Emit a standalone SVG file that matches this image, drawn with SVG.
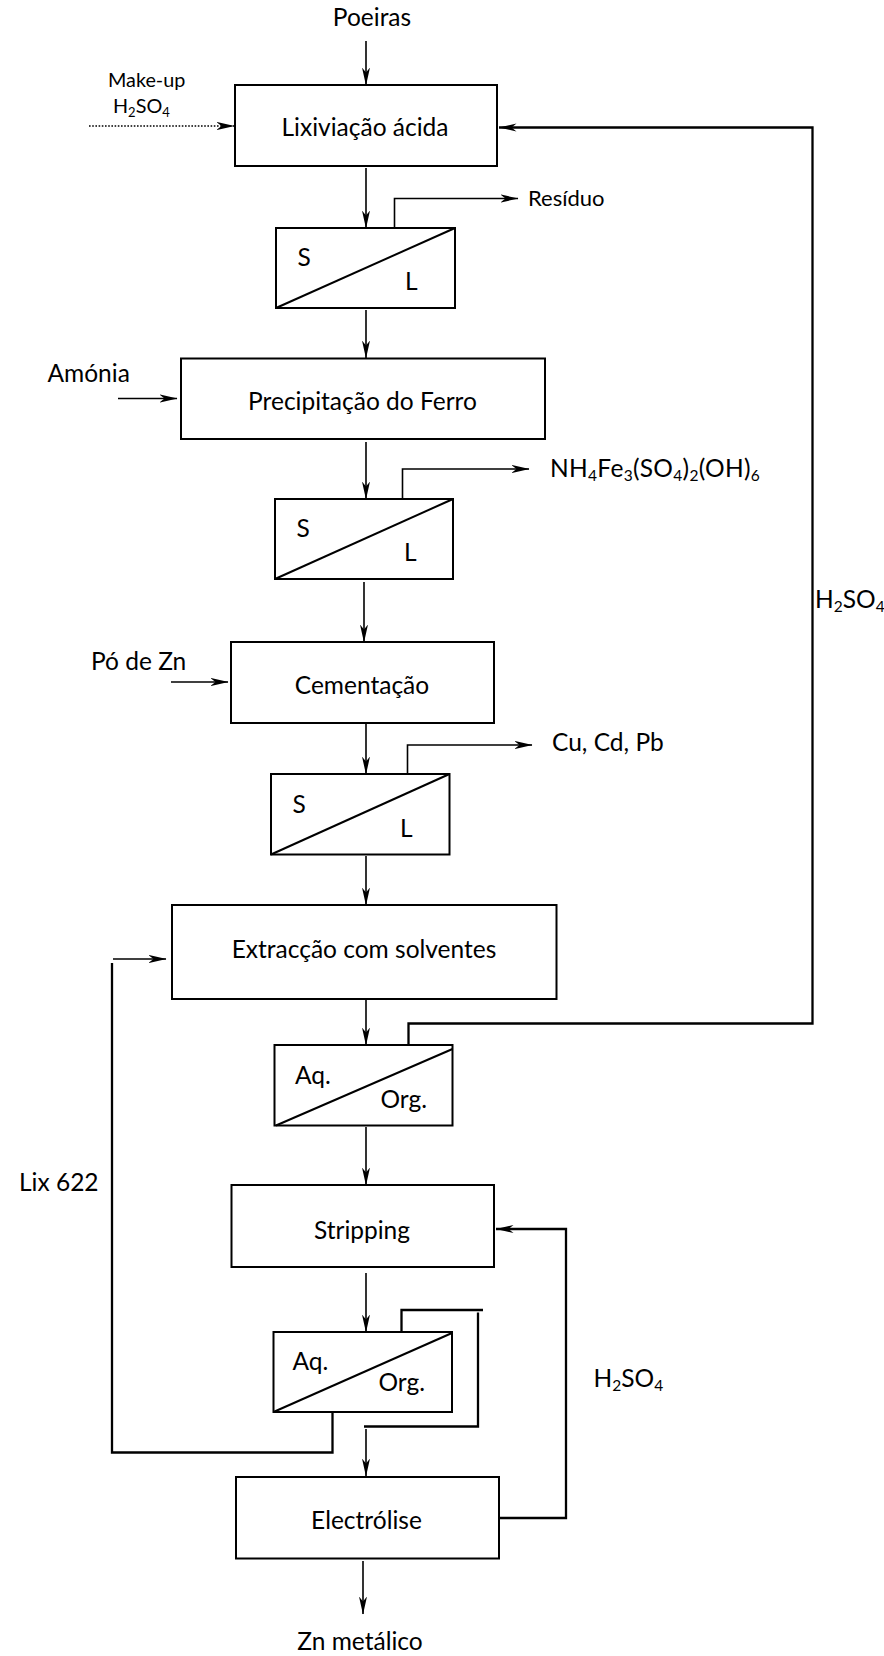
<svg xmlns="http://www.w3.org/2000/svg" width="884" height="1656" viewBox="0 0 884 1656">
<style>
.box{fill:#fff;stroke:#000;stroke-width:2}
.ln{fill:none;stroke:#000;stroke-width:1.6}
.lnb{fill:none;stroke:#000;stroke-width:2.3}
.dot{fill:none;stroke:#000;stroke-width:1.6;stroke-dasharray:1.6 1.6}
.diag{stroke:#000;stroke-width:2}
text{font-family:Lato,"Open Sans","Liberation Sans",sans-serif;font-size:24.5px;fill:#000}
.mid{text-anchor:middle}
.sm{font-size:22px}
.xs{font-size:19.8px}
.sub{font-size:15.5px}
.subx{font-size:13px}
</style>
<defs>
<marker id="ah" viewBox="0 0 18 10" refX="17.5" refY="5" markerWidth="18" markerHeight="10" markerUnits="userSpaceOnUse" orient="auto">
<path d="M0,1 L18,5 L0,9 L5,5 Z" fill="#000"/>
</marker>
</defs>

<g id="connectors">
<line class="ln" x1="366" y1="41" x2="366" y2="85" marker-end="url(#ah)"/>
<line class="ln" x1="366" y1="168" x2="366" y2="228" marker-end="url(#ah)"/>
<line class="ln" x1="366" y1="310" x2="366" y2="358" marker-end="url(#ah)"/>
<line class="ln" x1="366" y1="442" x2="366" y2="499" marker-end="url(#ah)"/>
<line class="ln" x1="364" y1="582" x2="364" y2="642" marker-end="url(#ah)"/>
<line class="ln" x1="366" y1="724" x2="366" y2="774" marker-end="url(#ah)"/>
<line class="ln" x1="366" y1="856" x2="366" y2="905" marker-end="url(#ah)"/>
<line class="ln" x1="366" y1="1000" x2="366" y2="1045" marker-end="url(#ah)"/>
<line class="ln" x1="366" y1="1127" x2="366" y2="1185" marker-end="url(#ah)"/>
<line class="ln" x1="366" y1="1273" x2="366" y2="1332" marker-end="url(#ah)"/>
<line class="ln" x1="366" y1="1429" x2="366" y2="1476" marker-end="url(#ah)"/>
<line class="ln" x1="363" y1="1561" x2="363" y2="1614" marker-end="url(#ah)"/>
<line class="dot" x1="89" y1="126" x2="234" y2="126" marker-end="url(#ah)"/>
<line class="ln" x1="118" y1="398.5" x2="177" y2="398.5" marker-end="url(#ah)"/>
<line class="ln" x1="171" y1="682" x2="228" y2="682" marker-end="url(#ah)"/>
<polyline class="ln" points="394.5,228 394.5,198.5 518,198.5" marker-end="url(#ah)"/>
<polyline class="ln" points="402.5,499 402.5,469 529,469" marker-end="url(#ah)"/>
<polyline class="ln" points="407.5,774 407.5,745 532,745" marker-end="url(#ah)"/>
<polyline class="lnb" points="408.5,1045 408.5,1023.5 812.5,1023.5 812.5,127.5 499,127.5" marker-end="url(#ah)"/>
<polyline class="lnb" points="332.5,1412 332.5,1452.5 112,1452.5 112,963"/>
<line class="ln" x1="113" y1="959" x2="166" y2="959" marker-end="url(#ah)"/>
<polyline class="lnb" points="401.5,1332 401.5,1310 483,1310"/>
<polyline class="lnb" points="478,1312.5 478,1426.5 364,1426.5"/>
<polyline class="lnb" points="499,1518 566,1518 566,1229 496,1229" marker-end="url(#ah)"/>
</g>

<g id="n-poeiras"><text class="mid" x="372" y="26">Poeiras</text></g>
<g id="n-makeup">
<text class="xs" x="108" y="87">Make-up</text>
<text class="xs" x="113" y="113">H<tspan class="subx" dy="3.5">2</tspan><tspan dy="-3.5">SO</tspan><tspan class="subx" dy="3.5">4</tspan></text>
</g>
<g id="n-lixiviacao">
<rect class="box" x="235" y="85" width="262" height="81"/>
<text class="mid" x="365" y="136">Lixiviação ácida</text>
</g>
<g id="n-sl1">
<rect class="box" x="276" y="228" width="179" height="80"/>
<line class="diag" x1="276" y1="308" x2="455" y2="228"/>
<text x="297.5" y="266">S</text>
<text x="405" y="290">L</text>
</g>
<g id="n-residuo"><text class="sm" x="528" y="206">Resíduo</text></g>
<g id="n-amonia"><text x="47.5" y="382">Amónia</text></g>
<g id="n-precipitacao">
<rect class="box" x="181" y="358.5" width="364" height="80.5"/>
<text class="mid" x="362.5" y="410">Precipitação do Ferro</text>
</g>
<g id="n-sl2">
<rect class="box" x="275" y="499" width="178" height="80"/>
<line class="diag" x1="275" y1="579" x2="453" y2="499"/>
<text x="296.5" y="537">S</text>
<text x="404" y="561">L</text>
</g>
<g id="n-jarosite"><text x="550" y="477" style="letter-spacing:0.3px">NH<tspan class="sub" dy="4">4</tspan><tspan dy="-4">Fe</tspan><tspan class="sub" dy="4">3</tspan><tspan dy="-4">(SO</tspan><tspan class="sub" dy="4">4</tspan><tspan dy="-4">)</tspan><tspan class="sub" dy="4">2</tspan><tspan dy="-4">(OH)</tspan><tspan class="sub" dy="4">6</tspan></text></g>
<g id="n-h2so4-top"><text x="815" y="608">H<tspan class="sub" dy="4">2</tspan><tspan dy="-4">SO</tspan><tspan class="sub" dy="4">4</tspan></text></g>
<g id="n-podezn"><text x="91" y="670">Pó de Zn</text></g>
<g id="n-cementacao">
<rect class="box" x="231" y="642" width="263" height="81"/>
<text class="mid" x="362" y="693.5">Cementação</text>
</g>
<g id="n-sl3">
<rect class="box" x="271" y="774" width="178.5" height="80.5"/>
<line class="diag" x1="271" y1="854.5" x2="449.5" y2="774"/>
<text x="292.5" y="813">S</text>
<text x="400" y="837">L</text>
</g>
<g id="n-cucdpb"><text x="552" y="751">Cu, Cd, Pb</text></g>
<g id="n-extraccao">
<rect class="box" x="172" y="905" width="384.5" height="94"/>
<text class="mid" x="364" y="957.5">Extracção com solventes</text>
</g>
<g id="n-aqorg1">
<rect class="box" x="274.5" y="1045" width="178" height="80.5"/>
<line class="diag" x1="276" y1="1125.5" x2="452.5" y2="1049"/>
<text x="295" y="1083.5">Aq.</text>
<text x="380.5" y="1107.5">Org.</text>
</g>
<g id="n-lix622"><text x="19" y="1191">Lix 622</text></g>
<g id="n-stripping">
<rect class="box" x="231.5" y="1185" width="262.5" height="82"/>
<text class="mid" x="362" y="1238.5">Stripping</text>
</g>
<g id="n-aqorg2">
<rect class="box" x="273.5" y="1332" width="178.5" height="80"/>
<line class="diag" x1="273.5" y1="1412" x2="452" y2="1333"/>
<text x="292.5" y="1369.5">Aq.</text>
<text x="378.5" y="1391">Org.</text>
</g>
<g id="n-h2so4-low"><text x="593.5" y="1387">H<tspan class="sub" dy="4">2</tspan><tspan dy="-4">SO</tspan><tspan class="sub" dy="4">4</tspan></text></g>
<g id="n-electrolise">
<rect class="box" x="236" y="1477" width="263" height="81.5"/>
<text class="mid" x="366.5" y="1529">Electrólise</text>
</g>
<g id="n-zn"><text class="mid" x="360" y="1649.5">Zn metálico</text></g>
</svg>
